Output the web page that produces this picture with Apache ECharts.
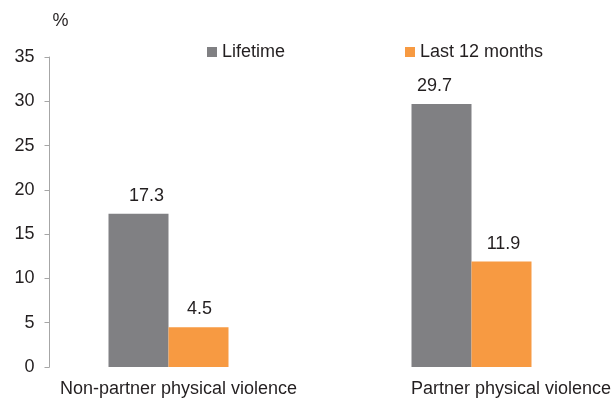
<!DOCTYPE html>
<html><head><meta charset="utf-8">
<script src="https://cdn.jsdelivr.net/npm/echarts@6/dist/echarts.min.js"></script>
<style>html,body{margin:0;padding:0;background:#fff;overflow:hidden;width:613px;height:403px}#c{width:640px;height:403px}</style>
</head><body><div id="c"></div>
<script>
var categories = ['Non-partner physical violence', 'Partner physical violence'];
var lifetime = [17.3, 29.7];
var last12 = [4.5, 11.9];
var seriesNames = ['Lifetime', 'Last 12 months'];
var yTicks = [0, 5, 10, 15, 20, 25, 30, 35];

/* styling: horizontal nudges of value labels (px) */
var lifetimeLabelShift = [8, -7];
var last12LabelShift = [1, 2];

var font = '"Liberation Sans", Arial, sans-serif';
var txt = '#231f20';
function items(vals, shifts) {
  return vals.map(function (v, i) { return {value: v, label: {offset: [shifts[i], 0]}}; });
}
var chart = echarts.init(document.getElementById('c'), null, {renderer: 'canvas'});
chart.setOption({
  animation: false,
  textStyle: {fontFamily: font},
  legend: [
    {data: [seriesNames[0]], left: 207, top: 43, padding: 0, icon: 'rect', itemWidth: 10, itemHeight: 10,
     textStyle: {fontFamily: font, fontSize: 18, color: txt}},
    {data: [seriesNames[1]], left: 405, top: 43, padding: 0, icon: 'rect', itemWidth: 10, itemHeight: 10,
     textStyle: {fontFamily: font, fontSize: 18, color: txt}}
  ],
  grid: {left: 17, width: 606, top: 57, bottom: 36, containLabel: false},
  xAxis: {
    type: 'category', data: categories,
    axisLine: {show: false}, axisTick: {show: false},
    axisLabel: {
      interval: 0, hideOverlap: false,
      margin: 13, color: txt, fontSize: 18, fontFamily: font,
      formatter: function (v, i) { return '{' + (i === 0 ? 'a' : 'b') + '|' + v + '}'; },
      rich: {
        a: {fontSize: 18, fontFamily: font, color: txt, padding: [0, 0, 0, 20]},
        b: {fontSize: 18, fontFamily: font, color: txt, padding: [0, 0, 0, 79]}
      }
    }
  },
  yAxis: {
    type: 'value', min: yTicks[0], max: yTicks[yTicks.length - 1], interval: 5,
    offset: -32.5,
    name: '%', nameLocation: 'end', nameGap: 27,
    nameTextStyle: {color: txt, fontSize: 18, fontFamily: font, align: 'left', padding: [0, 0, 0, 3]},
    axisLine: {show: true, lineStyle: {color: '#a6a6a6', width: 1}},
    axisTick: {show: true, length: 5, lineStyle: {color: '#a6a6a6'}},
    axisLabel: {margin: 15, color: txt, fontSize: 18, fontFamily: font},
    splitLine: {show: false}
  },
  series: [
    {name: seriesNames[0], type: 'bar', data: items(lifetime, lifetimeLabelShift), barWidth: 60, barGap: '0%',
     itemStyle: {color: '#808083'},
     label: {show: true, position: 'top', distance: 9, color: txt, fontSize: 18, fontFamily: font,
       formatter: function (p) { return p.value.toFixed(1); }}},
    {name: seriesNames[1], type: 'bar', data: items(last12, last12LabelShift), barWidth: 60, barGap: '0%',
     itemStyle: {color: '#f79a42'},
     label: {show: true, position: 'top', distance: 9, color: txt, fontSize: 18, fontFamily: font,
       formatter: function (p) { return p.value.toFixed(1); }}}
  ]
});
</script></body></html>
